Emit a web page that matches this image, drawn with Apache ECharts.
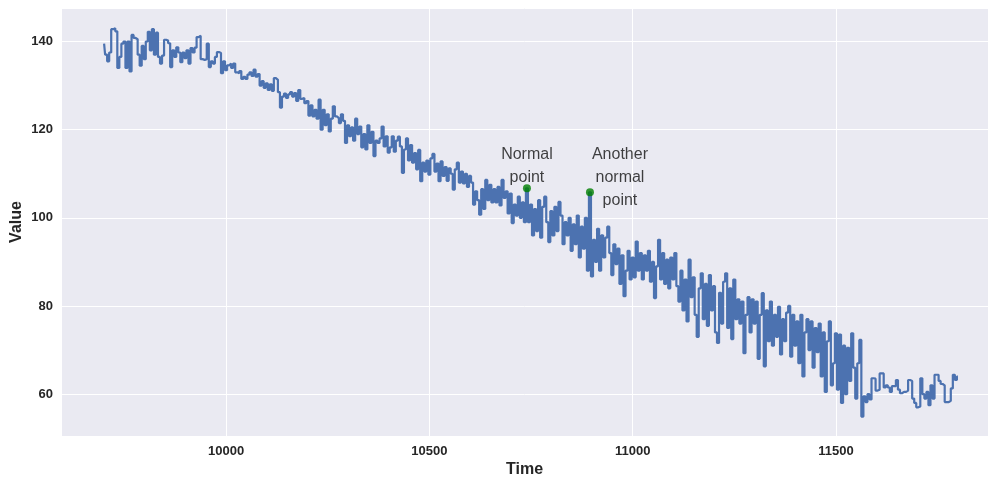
<!DOCTYPE html>
<html>
<head>
<meta charset="utf-8">
<title>Value over time</title>
<script src="https://cdn.jsdelivr.net/npm/echarts@6/dist/echarts.min.js"></script>
<style>
  html, body { margin: 0; padding: 0; background: #fff; }
  #chart { width: 990px; height: 480px; }
</style>
</head>
<body>
<div id="chart"></div>
<script>
// samples, one every 5 time units from 9700
const startTime = 9700
const timeStep = 5
const values = [
  139.5, 137, 135.5, 137.5, 142.8, 143, 142.3, 134, 136.5, 139.5,
  140, 134, 140, 133.2, 141.5, 140.8, 140.5, 137, 134.5, 139,
  136, 140, 142.2, 138, 142.8, 137, 142, 136.5, 135, 136.8,
  140.4, 140.2, 139.6, 134.2, 138, 136.5, 138.7, 137.5, 135.3, 137.5,
  136.2, 138, 135, 138.5, 137.5, 138.6, 141, 141.3, 136, 135.8,
  136, 139.5, 134.2, 135.5, 135, 136.5, 137.6, 137.4, 132.8, 135.5,
  133.5, 134.6, 135, 134, 135, 133, 132.8, 133.3, 131.5, 132,
  131.5, 132.5, 133, 132.2, 133.6, 132, 132.6, 130, 131, 129.5,
  130.5, 129, 130.3, 128.8, 131.7, 131.3, 128.5, 125, 127.5, 128.2,
  127.2, 128, 128.5, 127.5, 128.3, 126.5, 129, 127, 127.2, 126,
  126.5, 123.2, 125.5, 123, 124.5, 122.5, 126.8, 120, 124.5, 121,
  123.5, 119.6, 122.5, 125.3, 123, 122.6, 121.5, 123.5, 122, 117,
  121, 118.5, 120.5, 117.5, 122.5, 119, 120.7, 116, 119, 115.5,
  121, 117, 119.5, 114, 117.5, 117, 118, 120.7, 116.2, 118.5,
  114.8, 116, 118.5, 115, 117.5, 118.4, 116.2, 110.2, 115.5, 118,
  113, 116.5, 112.5, 114.7, 111, 115.4, 108.3, 112.5, 110.5, 113,
  109.8, 113.5, 114.5, 110.5, 112.3, 108.3, 112.8, 109.5, 111.5, 108.4,
  111.2, 110, 106.4, 111, 112.5, 108, 110.5, 107.8, 110, 107,
  109.5, 108, 103, 106, 104, 100.7, 106.5, 102, 108.6, 104,
  107.5, 103.5, 106.5, 103.5, 107, 102.8, 108.6, 104.5, 106, 101,
  105.5, 98.8, 103, 100.5, 104.8, 100, 103.5, 99, 106.7, 99,
  103, 96, 102, 97, 104, 95.5, 102.5, 104.8, 99, 94.5,
  101.5, 96, 102.5, 97, 103.6, 100.5, 94, 99, 96, 100,
  92.5, 98.5, 94, 100.5, 91, 98, 93, 100, 88, 105.8,
  86.7, 95, 90, 97.5, 88, 96, 91, 95.5, 98, 92,
  87, 94, 89.5, 93, 85, 91.5, 82.2, 88, 92.5, 86,
  91, 86.5, 94.6, 88, 92, 86, 91.5, 88, 92.5, 85.5,
  90, 81.8, 89, 95, 86, 92, 85, 90.5, 84, 91,
  86, 92, 84.5, 81, 88, 79, 86, 76.5, 90.5, 82,
  86.5, 78, 73, 84, 87.4, 77, 85, 75.5, 87, 79,
  84.5, 74, 71.6, 83, 76, 85.5, 87.4, 75, 84, 72.5,
  86, 77, 81.5, 76, 81, 69.3, 78, 82, 74, 81.5,
  76, 81, 68, 78, 82.9, 66.3, 79, 72, 81, 71,
  78, 73, 79.8, 69, 77, 72, 78.5, 80, 68.5, 78,
  71, 76.5, 67, 78, 64, 74, 77, 70, 76.5, 66,
  75, 69.5, 76, 64, 74, 60.5, 72, 76.5, 62, 67,
  73.8, 61, 73.5, 58, 71, 60, 70.5, 63, 73.8, 66,
  59, 67, 72.3, 54.9, 59.5, 58.2, 60, 58.8, 63.6, 63.5,
  60.8, 61, 64.7, 64.7, 61.5, 62, 61.5, 60.5, 61.8, 61.8,
  63.2, 61, 60.2, 60.5, 60.5, 60.8, 63.2, 63, 59, 58,
  57, 57.2, 63.6, 60, 59, 60.5, 57.5, 62, 59, 64.4,
  64.4, 63, 62.3, 62, 58.2, 58.2, 58.5, 61.3, 64.4, 63.2,
  64
]

const pointTimes = [10740, 10895]
const pointValues = [106.7, 105.8]
const pointLabels = ['Normal\npoint', 'Another\nnormal\npoint']

const chart = echarts.init(document.getElementById('chart'))

const lineData = values.map((v, i) => [startTime + i * timeStep, v])
const labelPos = [[4, -18], [34, -11]]
const pointData = pointTimes.map((t, i) => ({
  value: [t, pointValues[i]],
  label: { formatter: pointLabels[i], position: labelPos[i] }
}))

const axisText = { color: '#262626', fontFamily: 'Liberation Sans', fontWeight: 'bold', fontSize: 13 }
const nameText = { color: '#262626', fontFamily: 'Liberation Sans', fontWeight: 'bold', fontSize: 16 }

const option = {
  animation: false,
  backgroundColor: '#ffffff',
  grid: {
    left: 61, right: 2, top: 8, bottom: 44,
    outerBoundsMode: 'none',
    containLabel: false,
    show: true, backgroundColor: '#eaeaf2', borderWidth: 0
  },
  xAxis: {
    type: 'value',
    min: 9594,
    max: 11874,
    name: 'Time',
    nameLocation: 'middle',
    nameGap: 26,
    nameMoveOverlap: false,
    nameTextStyle: nameText,
    axisLine: { show: false },
    axisTick: { show: false },
    axisLabel: Object.assign({ margin: 9, showMinLabel: false, showMaxLabel: false, formatter: v => String(v) }, axisText),
    splitLine: { show: true, lineStyle: { color: '#ffffff', width: 1 } }
  },
  yAxis: {
    type: 'value',
    min: 50.5,
    max: 147.6,
    name: 'Value',
    nameLocation: 'middle',
    nameRotate: 90,
    nameGap: 36,
    nameMoveOverlap: false,
    nameTextStyle: nameText,
    axisLine: { show: false },
    axisTick: { show: false },
    axisLabel: Object.assign({ margin: 8, showMinLabel: false, showMaxLabel: false, formatter: v => String(v) }, axisText),
    splitLine: { show: true, lineStyle: { color: '#ffffff', width: 1 } }
  },
  series: [
    {
      type: 'line',
      data: lineData,
      step: 'middle',
      showSymbol: false,
      lineStyle: { color: '#4c72b0', width: 2.2 },
      z: 2
    },
    {
      type: 'scatter',
      data: pointData,
      symbolSize: 8,
      itemStyle: { color: '#008000' },
      label: {
        show: true,
        align: 'center',
        verticalAlign: 'middle',
        color: '#111111',
        fontFamily: 'Liberation Sans',
        fontSize: 16,
        lineHeight: 23
      },
      z: 3
    }
  ]
}

chart.setOption(option)
window.addEventListener('resize', () => chart.resize())
</script>
</body>
</html>
